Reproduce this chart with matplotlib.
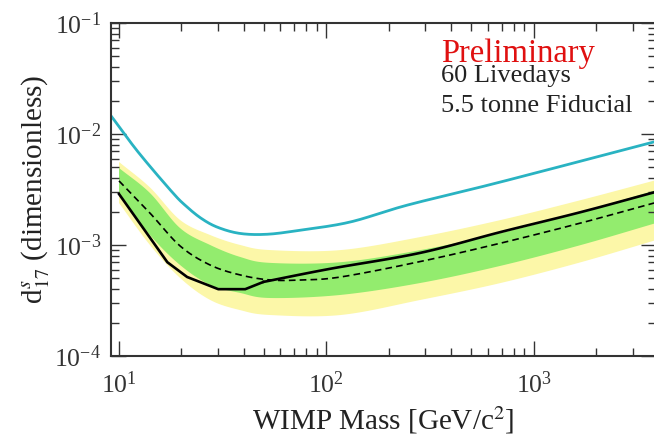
import matplotlib
matplotlib.use("Agg")
import matplotlib.pyplot as plt
import numpy as np

plt.rcParams['font.family'] = ['Liberation Serif', 'DejaVu Serif']
plt.rcParams['mathtext.fontset'] = 'stix'

# observed limit (solid black)
obs_mass = [10, 17.1, 21.3, 30.1, 40.6, 49.7, 104, 284, 693, 1687, 3846]
obs_limit = [2.88e-3, 7.0e-4, 5.15e-4, 4.0e-4, 4.0e-4, 4.65e-4, 6.1e-4, 8.5e-4, 1.31e-3, 1.98e-3, 3.0e-3]

# expected median (dashed)
exp_mass = [10, 14.1, 19.7, 27.5, 38.4, 53.6, 75, 117, 284, 693, 1687, 3800]
exp_limit = [3.78e-3, 1.94e-3, 9.8e-4, 6.6e-4, 5.37e-4, 4.84e-4, 4.84e-4, 5.15e-4, 7.1e-4, 1.04e-3, 1.58e-3, 2.39e-3]

# sensitivity bands
band_mass = [10, 14.1, 19.7, 27.5, 38.4, 53.6, 117, 284, 693, 1687, 3900]
yellow_hi = [5.6e-3, 3.3e-3, 1.68e-3, 1.23e-3, 1.0e-3, 9.0e-4, 9.0e-4, 1.18e-3, 1.68e-3, 2.54e-3, 3.85e-3]
green_hi = [4.94e-3, 2.94e-3, 1.42e-3, 1.0e-3, 7.8e-4, 6.9e-4, 7.0e-4, 9.0e-4, 1.28e-3, 1.98e-3, 3.13e-3]
green_lo = [2.82e-3, 1.23e-3, 6.6e-4, 4.37e-4, 3.7e-4, 3.33e-4, 3.55e-4, 4.55e-4, 6.5e-4, 1.0e-3, 1.58e-3]
yellow_lo = [2.39e-3, 1.0e-3, 5.05e-4, 3.2e-4, 2.59e-4, 2.34e-4, 2.34e-4, 3.2e-4, 4.55e-4, 7.0e-4, 1.11e-3]

# previous result (cyan)
prev_mass = [9.0, 9.25, 12.35, 18.0, 21.0, 25.0, 30.0, 38.4, 51.9, 74.8, 130, 246, 693, 3900]
prev_limit = [1.5e-2, 1.42e-2, 6.9e-3, 3.01e-3, 2.25e-3, 1.73e-3, 1.44e-3, 1.27e-3, 1.25e-3, 1.36e-3, 1.61e-3, 2.29e-3, 3.7e-3, 8.6e-3]


def smooth(x, y, n=20):
	# catmull-rom through the points, in log-log space
	pts = np.column_stack([np.log10(x), np.log10(y)])
	p = np.vstack([2 * pts[0] - pts[1], pts, 2 * pts[-1] - pts[-2]])
	t = np.linspace(0, 1, n, endpoint=False)[:, None]
	out = []
	for i in range(1, len(p) - 2):
		p0, p1, p2, p3 = p[i - 1], p[i], p[i + 1], p[i + 2]
		seg = 0.5 * (2 * p1 + (-p0 + p2) * t + (2 * p0 - 5 * p1 + 4 * p2 - p3) * t ** 2
			+ (-p0 + 3 * p1 - 3 * p2 + p3) * t ** 3)
		out.append(seg)
	out.append(pts[-1:])
	arr = np.vstack(out)
	return 10 ** arr[:, 0], 10 ** arr[:, 1]


def band(ax, x, lo, hi, color):
	xh, yh = smooth(x, hi)
	xl, yl = smooth(x, lo)
	ax.fill(np.concatenate([xh, xl[::-1]]), np.concatenate([yh, yl[::-1]]), color=color, lw=0)


fig = plt.figure(figsize=(6.54, 4.42), dpi=100)
ax = fig.add_axes([111 / 654, 1 - 356 / 442, 545 / 654, 333 / 442])

band(ax, band_mass, yellow_lo, yellow_hi, '#fcf7a8')
band(ax, band_mass, green_lo, green_hi, '#93ec6e')
ax.plot(*smooth(exp_mass, exp_limit), color='black', lw=1.2, ls=(0, (4, 2.5)))
ax.plot(obs_mass[:6], obs_limit[:6], color='black', lw=1.9)
ax.plot(*smooth(obs_mass[5:], obs_limit[5:]), color='black', lw=1.9)
ax.plot(*smooth(prev_mass, prev_limit), color='#29b3c2', lw=2.0)

ax.set_xscale('log')
ax.set_yscale('log')
ax.set_xlim(9.15, 3880)
ax.set_ylim(1e-4, 1e-1)

ax.tick_params(which='both', direction='in', top=True, right=True, labelsize=18.5, width=1.0, colors='#333333')
ax.tick_params(which='major', length=11)
ax.tick_params(axis='x', which='major', pad=11)
ax.tick_params(axis='y', which='major', pad=7)
ax.tick_params(which='minor', length=6)
for s in ax.spines.values():
	s.set_linewidth(1.5)
	s.set_color('#333333')

ax.set_xlabel('WIMP Mass [GeV/c$^2$]', fontsize=21, labelpad=5, color='#222222')
ax.set_ylabel(r'd$^{s}_{17}$ (dimensionless)', fontsize=21, labelpad=2, color='#222222')

# "Preliminary" overlaps the line below it slightly, as in the original
ax.text(0.605, 0.883, 'Preliminary', transform=ax.transAxes, color='#e01010', fontsize=23.5)
ax.text(0.605, 0.823, '60 Livedays', transform=ax.transAxes, color='#222222', fontsize=19)
ax.text(0.605, 0.733, '5.5 tonne Fiducial', transform=ax.transAxes, color='#222222', fontsize=19)

fig.savefig('out.png', dpi=100)
